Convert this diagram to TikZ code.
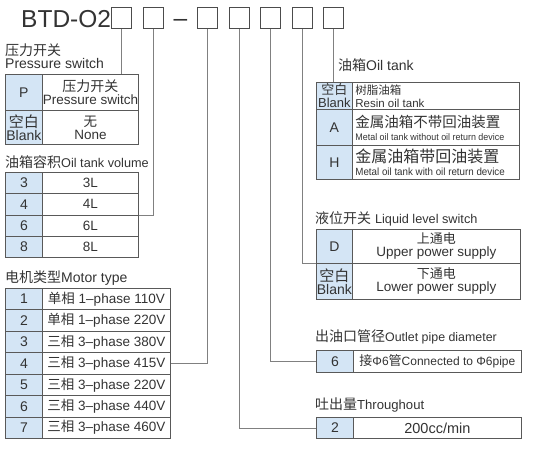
\documentclass[tikz,border=0pt]{standalone}
\usepackage{graphicx}
\usepackage{fontspec}
\setmainfont{Liberation Sans}
\newfontfamily\zh{Noto Sans CJK SC}
\begin{document}
\begin{tikzpicture}[x=1pt,y=-1pt,
  txt/.style={text=black!80,inner sep=0pt,anchor=base west,font=\fontsize{14}{14}\selectfont},
  key/.style={draw=black!65,line width=0.8pt,fill=keyblue,text=black!80,anchor=north west,minimum width=37pt,inner sep=0pt,align=center,font=\fontsize{14}{13}\selectfont},
  val/.style={draw=black!65,line width=0.8pt,text=black!80,anchor=north west,inner sep=0pt,align=center,font=\fontsize{13.5}{13}\selectfont},
  lval/.style={val,text width=161pt,inner xsep=3pt,align=flush left},
  digit/.style={draw=black!70,line width=0.9pt,minimum width=20pt,minimum height=21pt,inner sep=0pt,anchor=north west},
  conn/.style={draw=black!50,line width=0.8pt}]
\definecolor{keyblue}{HTML}{D4E5F5}
\useasboundingbox (0,0) rectangle (542,461);
% model code
\node[txt,font=\fontsize{24.5}{24.5}\selectfont] (title) at (21,27) {BTD-O2};
\node[digit] (b1) at (111,7) {};
\node[digit] (b2) at (143,7) {};
\node[txt,font=\fontsize{24.5}{24.5}\selectfont] (dash) at (173.5,26) {–};
\node[digit] (b3) at (197,7) {};
\node[digit] (b4) at (229,7) {};
\node[digit] (b5) at (260,7) {};
\node[digit] (b6) at (292,7) {};
\node[digit] (b7) at (323,7) {};
% pressure switch
\node[txt] (plab1) at (5,55) {\zh 压力开关};
\node[txt] (plab2) at (5,68) {Pressure switch};
\node[key,minimum height=36pt] (pk) at (5,74) {P};
\node[val,minimum height=36pt,minimum width=96pt] (pv) at (42,74) {{\zh\fontsize{14}{13}\selectfont 压力开关}\\Pressure switch};
\node[key,minimum height=34pt] (nk) at (5,110) {{\zh\fontsize{15}{13}\selectfont 空白}\\Blank};
\node[val,minimum height=34pt,minimum width=96pt] (nv) at (42,110) {{\zh 无}\\None};
% oil tank volume
\node[txt] (vlab) at (5,167) {{\zh 油箱容积}\fontsize{12.7}{14}\selectfont Oil tank volume};
\node[key,minimum height=21.25pt] (k3) at (5,172) {3};
\node[val,minimum height=21.25pt,minimum width=96pt] (v3) at (42,172) {3L};
\node[key,minimum height=21.25pt] (k4) at (5,193.25) {4};
\node[val,minimum height=21.25pt,minimum width=96pt] (v4) at (42,193.25) {4L};
\node[key,minimum height=21.25pt] (k6) at (5,214.5) {6};
\node[val,minimum height=21.25pt,minimum width=96pt] (v6) at (42,214.5) {6L};
\node[key,minimum height=21.25pt] (k8) at (5,235.75) {8};
\node[val,minimum height=21.25pt,minimum width=96pt] (v8) at (42,235.75) {8L};
% motor type
\node[txt] (mlab) at (5,282) {{\zh 电机类型}Motor type};
\node[key,minimum height=21.43pt] (mk1) at (5,288) {1};
\node[val,minimum height=21.43pt,minimum width=128pt] (m1) at (42,288) {{\zh 单相} 1–phase 110V};
\node[key,minimum height=21.43pt] (mk2) at (5,309.43) {2};
\node[val,minimum height=21.43pt,minimum width=128pt] (m2) at (42,309.43) {{\zh 单相} 1–phase 220V};
\node[key,minimum height=21.43pt] (mk3) at (5,330.86) {3};
\node[val,minimum height=21.43pt,minimum width=128pt] (m3) at (42,330.86) {{\zh 三相} 3–phase 380V};
\node[key,minimum height=21.43pt] (mk4) at (5,352.29) {4};
\node[val,minimum height=21.43pt,minimum width=128pt] (m4) at (42,352.29) {{\zh 三相} 3–phase 415V};
\node[key,minimum height=21.43pt] (mk5) at (5,373.71) {5};
\node[val,minimum height=21.43pt,minimum width=128pt] (m5) at (42,373.71) {{\zh 三相} 3–phase 220V};
\node[key,minimum height=21.43pt] (mk6) at (5,395.14) {6};
\node[val,minimum height=21.43pt,minimum width=128pt] (m6) at (42,395.14) {{\zh 三相} 3–phase 440V};
\node[key,minimum height=21.43pt] (mk7) at (5,416.57) {7};
\node[val,minimum height=21.43pt,minimum width=128pt] (m7) at (42,416.57) {{\zh 三相} 3–phase 460V};
% oil tank
\node[txt] (olab) at (338,70) {{\zh 油箱}Oil tank};
\node[key,minimum height=27pt,minimum width=36pt] (ob) at (316,82) {{\zh\fontsize{13}{11}\selectfont 空白}\\\fontsize{13}{11}\selectfont Blank};
\node[lval,minimum height=27pt] (ov) at (352,82) {{\zh\fontsize{11.5}{12}\selectfont 树脂油箱}\\{\fontsize{11.5}{12}\selectfont Resin oil tank}};
\node[key,minimum height=36pt,minimum width=36pt] (oa) at (316,109) {A};
\node[lval,minimum height=36pt] (oav) at (352,109) {{\zh\fontsize{14.5}{15}\selectfont 金属油箱不带回油装置}\\{\fontsize{9.5}{11}\selectfont\scalebox{0.94}[1]{Metal oil tank without oil return device}}};
\node[key,minimum height=34pt,minimum width=36pt] (oh) at (316,145) {H};
\node[lval,minimum height=34pt] (ohv) at (352,145) {{\zh\fontsize{16}{15}\selectfont 金属油箱带回油装置}\\{\fontsize{10.4}{11}\selectfont\scalebox{0.94}[1]{Metal oil tank with oil return device}}};
% liquid level switch
\node[txt] (llab) at (315,223) {{\zh 液位开关} \fontsize{12.7}{14}\selectfont Liquid level switch};
\node[key,minimum height=34pt,minimum width=36pt] (dk) at (316,229) {D};
\node[val,minimum height=34pt,minimum width=168pt] (dv) at (352,229) {{\zh\fontsize{13}{13}\selectfont 上通电}\\Upper power supply};
\node[key,minimum height=36pt,minimum width=36pt] (lk) at (316,263) {{\zh\fontsize{15}{13}\selectfont 空白}\\Blank};
\node[val,minimum height=36pt,minimum width=168pt] (lv) at (352,263) {{\zh\fontsize{13}{13}\selectfont 下通电}\\Lower power supply};
% outlet pipe diameter
\node[txt] (dlab) at (315,341) {{\zh 出油口管径}\fontsize{12.4}{14}\selectfont Outlet pipe diameter};
\node[key,minimum height=22pt] (ok) at (316,350) {6};
\node[val,minimum height=22pt,minimum width=168pt,font=\fontsize{12}{13}\selectfont] (ov6) at (353,350) {{\zh\fontsize{13}{13}\selectfont 接}Φ6{\zh\fontsize{13}{13}\selectfont 管}Connected to Φ6pipe};
% throughout
\node[txt] (tlab) at (315,409) {{\zh 吐出量}\fontsize{13.1}{14}\selectfont Throughout};
\node[key,minimum height=21pt] (tk) at (316,417) {2};
\node[val,minimum height=21pt,minimum width=168pt,font=\fontsize{14.5}{14}\selectfont] (tv) at (353,417) {200cc/min};
% connectors
\draw[conn] (b1.south) -- (b1.south |- pv.north);
\draw[conn] (b2.south) |- (v4.south east);
\draw[conn] (b3.south) |- (m4.east);
\draw[conn] (b4.south) |- (tk.west);
\draw[conn] (b5.south) |- (ok.west);
\draw[conn] (b6.south) |- (dk.south west);
\draw[conn] (b7.south) -- (b7.south |- ob.north);
\end{tikzpicture}
\end{document}
